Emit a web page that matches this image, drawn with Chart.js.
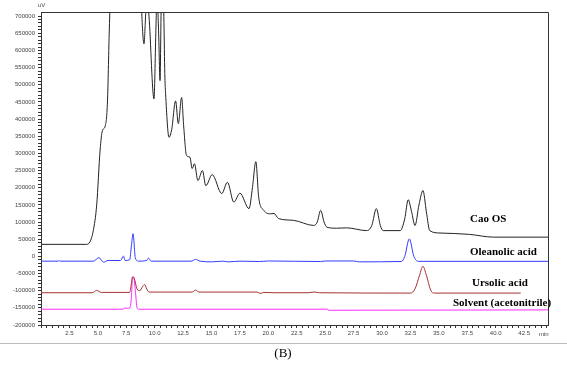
<!DOCTYPE html>
<html lang="en">
  <head>
    <meta charset="UTF-8" />
    <title>Chromatogram (B)</title>
    <script src="https://cdn.jsdelivr.net/npm/chart.js"></script>
    <style>
      body { margin: 0; background: #fff; }
    </style>
  </head>
  <body>
    <canvas id="chromChart" width="567" height="376"></canvas>

    <script>
      // Retention time (min) and detector signal (uV)
      const caoTimes = [0, 4.0, 4.3, 4.6, 4.9, 5.2, 5.4, 5.65, 5.85, 6.0, 6.1, 6.4, 7.5, 8.6, 8.85, 9.06, 9.2, 9.3, 9.5, 9.94,
        10.1, 10.2, 10.35, 10.47, 10.6, 10.75, 10.9, 10.96, 11.26, 11.5, 11.84, 12.08, 12.37, 12.55, 12.8, 13.1, 13.3, 13.5,
        13.8, 14.2, 14.5, 15.06, 15.9, 16.4, 16.96, 17.5, 18.3, 18.6, 18.9, 19.15, 19.6, 20.2, 20.5, 20.9, 22.2, 24.0, 24.3,
        24.6, 24.9, 25.15, 26.0, 26.9, 28.65, 29.1, 29.5, 29.85, 30.1, 31.6, 32.0, 32.3, 32.6, 32.9, 33.25, 33.6, 33.9, 34.2,
        35.1, 37.7, 39.8, 44.6];
      const caoValues = [35000, 35000, 42000, 75000, 150000, 310000, 366000, 380000, 453000, 650000, 760000, 1100000, 1300000,
        1000000, 720000, 619000, 700000, 760000, 700000, 459000, 650000, 760000, 650000, 512000, 760000, 760000, 520000, 474000,
        347000, 370000, 453000, 387000, 463000, 380000, 294000, 289000, 256000, 270000, 221000, 250000, 206000, 238000, 183000,
        216000, 158000, 184000, 139000, 200000, 276000, 172000, 134000, 124000, 125000, 110000, 105000, 90000, 100000, 134000,
        100000, 85000, 82000, 83000, 75000, 90000, 139000, 90000, 75000, 75000, 110000, 165000, 130000, 90000, 150000, 192000,
        130000, 75000, 68000, 64000, 56000, 56000];

      const oleanolicTimes = [0, 1.5, 1.6, 1.7, 4.6, 5.1, 5.5, 5.9, 7.0, 7.25, 7.4, 7.8, 7.95, 8.1, 8.3, 8.6, 9.3, 9.45, 9.7,
        13.2, 13.6, 14.0, 15.0, 16.0, 16.5, 17.5, 19.2, 20.0, 24.6, 25.0, 27.5, 28.0, 31.7, 32.0, 32.4, 32.8, 33.2, 44.6];
      const oleanolicValues = [-14000, -14000, -12500, -14000, -14000, -4000, -17000, -12000, -12000, 1000, -12000, -10000,
        30000, 66000, -5000, -14000, -12000, -5000, -14000, -14000, -9000, -14000, -16000, -14000, -16000, -14000, -15000,
        -13500, -15000, -13500, -13500, -16000, -15000, 0, 51000, 0, -14500, -14500];

      const ursolicTimes = [0, 4.5, 4.9, 5.3, 7.8, 7.95, 8.04, 8.2, 8.45, 8.7, 8.95, 9.12, 9.3, 9.5, 11.0, 13.3, 13.6, 13.9,
        19.0, 19.3, 19.6, 20.5, 23.5, 24.0, 24.5, 32.5, 32.9, 33.3, 33.6, 33.9, 34.3, 34.6, 42.2];
      const ursolicValues = [-106000, -106000, -99000, -105000, -105000, -80000, -60000, -64000, -95000, -100000, -87000,
        -82000, -95000, -104000, -104000, -104000, -98000, -104000, -104000, -108000, -105000, -106000, -106000, -104000,
        -106000, -107000, -95000, -55000, -29000, -55000, -100000, -107000, -107000];

      const solventTimes = [0, 7.2, 7.35, 7.8, 7.95, 8.05, 8.15, 8.3, 8.45, 8.6, 25.2, 25.3, 44.6];
      const solventValues = [-154000, -154000, -151000, -151000, -120000, -62000, -60000, -100000, -150000, -154000,
        -154000, -157000, -156000];

      // Axis ticks: minor every 0.5 min / 10000 uV, labels every 2.5 min / 50000 uV
      const xTickValues = [];
      for (let t = 0; t <= 44.5; t += 0.5) xTickValues.push(t);
      const yTickValues = [];
      for (let v = -200000; v <= 700000; v += 10000) yTickValues.push(v);

      const traceLabels = ['Cao OS', 'Oleanolic acid', 'Ursolic acid', 'Solvent (acetonitrile)'];

      const toPoints = (xs, ys) => xs.map((x, i) => ({ x: x, y: ys[i] }));

      // Frame, trace names and caption
      const decorations = {
        id: 'decorations',
        afterDraw(chart) {
          const ctx = chart.ctx;
          const a = chart.chartArea;
          ctx.save();
          ctx.strokeStyle = '#333';
          ctx.lineWidth = 1;
          ctx.beginPath();
          ctx.moveTo(a.left, a.top + 0.5);
          ctx.lineTo(a.right + 0.5, a.top + 0.5);
          ctx.lineTo(a.right + 0.5, a.bottom);
          ctx.stroke();

          ctx.fillStyle = '#444';
          ctx.font = '6px "Liberation Sans", Arial, sans-serif';
          ctx.textBaseline = 'middle';
          ctx.fillText('uV', 38, 5);
          ctx.fillText('min', 539, 334);

          ctx.fillStyle = '#000';
          ctx.font = 'bold 11px "Liberation Serif", "Times New Roman", serif';
          ctx.fillText(traceLabels[0], 470, 219);
          ctx.fillText(traceLabels[1], 470, 252);
          ctx.fillText(traceLabels[2], 472, 283);
          ctx.fillText(traceLabels[3], 453, 303);

          ctx.strokeStyle = '#bbb';
          ctx.beginPath();
          ctx.moveTo(0, 343.5);
          ctx.lineTo(567, 343.5);
          ctx.stroke();

          ctx.font = '13px "Liberation Serif", "Times New Roman", serif';
          ctx.textAlign = 'center';
          ctx.fillText('(B)', 283, 354);
          ctx.restore();
        }
      };

      new Chart(document.getElementById('chromChart'), {
        type: 'line',
        data: {
          datasets: [
            { data: toPoints(caoTimes, caoValues), borderColor: '#222' },
            { data: toPoints(oleanolicTimes, oleanolicValues), borderColor: 'rgb(50, 60, 255)' },
            { data: toPoints(ursolicTimes, ursolicValues), borderColor: 'rgb(165, 50, 50)' },
            { data: toPoints(solventTimes, solventValues), borderColor: 'rgb(255, 40, 255)' }
          ]
        },
        options: {
          responsive: false,
          animation: false,
          layout: { padding: { top: 12, right: 19, left: 0, bottom: 0 } },
          plugins: { legend: { display: false }, tooltip: { enabled: false } },
          elements: {
            point: { radius: 0 },
            line: { borderWidth: 1, cubicInterpolationMode: 'monotone' }
          },
          scales: {
            x: {
              type: 'linear',
              min: 0,
              max: 44.6,
              afterBuildTicks: scale => { scale.ticks = xTickValues.map(v => ({ value: v })); },
              afterFit: scale => { scale.height = 51; },
              ticks: {
                autoSkip: false,
                maxRotation: 0,
                padding: 2,
                color: '#444',
                font: { size: 6, family: '"Liberation Sans", Arial, sans-serif' },
                callback: v => (v > 0 && v % 2.5 === 0 ? v.toFixed(1) : '')
              },
              grid: { drawOnChartArea: false, tickLength: 3, color: '#333' },
              border: { color: '#333' }
            },
            y: {
              min: -200000,
              max: 712000,
              afterBuildTicks: scale => { scale.ticks = yTickValues.map(v => ({ value: v })); },
              afterFit: scale => { scale.width = 41; },
              ticks: {
                autoSkip: false,
                padding: 3,
                color: '#444',
                font: { size: 6, family: '"Liberation Sans", Arial, sans-serif' },
                callback: v => (v % 50000 === 0 ? String(v) : '')
              },
              grid: { drawOnChartArea: false, tickLength: 3, color: '#333' },
              border: { color: '#333' }
            }
          }
        },
        plugins: [decorations]
      });
    </script>
  </body>
</html>
